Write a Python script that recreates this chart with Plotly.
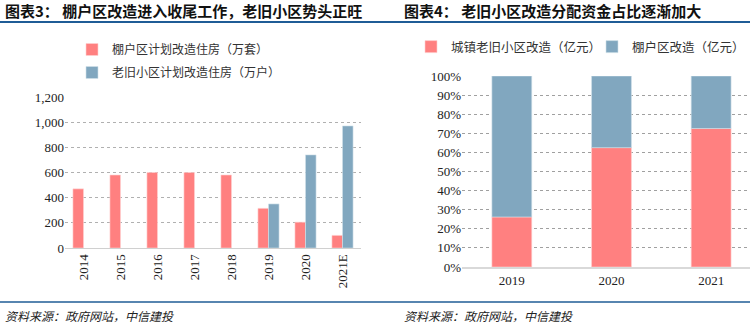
import plotly.graph_objects as go

# Left chart data
years_l = ["2014", "2015", "2016", "2017", "2018", "2019", "2020", "2021E"]
shantytown = [470, 580, 600, 600, 580, 315, 205, 100]
old_comm = [None, None, None, None, None, 350, 740, 970]
ytick_l = [0, 200, 400, 600, 800, 1000, 1200]
ytick_l_text = ["0", "200", "400", "600", "800", "1,000", "1,200"]

# Right chart data
years_r = ["2019", "2020", "2021"]
old_share = [0.262, 0.625, 0.725]
shanty_share = [0.738, 0.375, 0.275]

PINK = "#FF8080"
BLUE = "#81A7BF"
LINE = "#1F5C96"
SERIF = "Liberation Serif, Times New Roman, serif"
CJK = "Noto Sans CJK SC, sans-serif"

W, H = 750, 324
def py(px):
    return 1 - px / H
def pxx(px):
    return px / W

fig = go.Figure()

fig.add_trace(go.Bar(x=years_l, y=shantytown, name="棚户区计划改造住房（万套）",
                     marker=dict(color=PINK, line=dict(color="#FFD0D0", width=0.6)),
                     legendgroup="a", xaxis="x", yaxis="y", legend="legend"))
fig.add_trace(go.Bar(x=years_l, y=old_comm, name="老旧小区计划改造住房（万户）",
                     marker=dict(color=BLUE, line=dict(color="#D0E0EA", width=0.6)),
                     legendgroup="b", xaxis="x", yaxis="y", legend="legend"))

fig.add_trace(go.Bar(x=years_r, y=old_share, name="城镇老旧小区改造（亿元）",
                     marker=dict(color=PINK, line=dict(color="#FFD0D0", width=0.6)),
                     offsetgroup="r", width=0.4,
                     xaxis="x2", yaxis="y2", legend="legend2"))
fig.add_trace(go.Bar(x=years_r, y=shanty_share, base=old_share, name="棚户区改造（亿元）",
                     marker=dict(color=BLUE, line=dict(color="#D0E0EA", width=0.6)),
                     offsetgroup="r", width=0.4,
                     xaxis="x2", yaxis="y2", legend="legend3"))

fig.update_layout(
    width=W, height=H, margin=dict(l=0, r=0, t=0, b=0, autoexpand=False),
    paper_bgcolor="white", plot_bgcolor="white",
    barmode="group", bargap=0.43, bargroupgap=0,
    font=dict(family=SERIF, size=13, color="#222222"),
    xaxis=dict(domain=[pxx(65), pxx(361)], anchor="y", type="category",
               tickangle=-90, tickfont=dict(family=SERIF, size=13, color="#222"),
               showline=True, linecolor="#d0d0d0", linewidth=1, automargin=False,
               ticks="", showgrid=False),
    yaxis=dict(domain=[py(248), py(97)], anchor="x", range=[0, 1200],
               tickvals=ytick_l, ticktext=ytick_l_text, automargin=False,
               tickfont=dict(family=SERIF, size=13, color="#222"),
               showgrid=True, gridcolor="#b0b0b0", griddash="dot", gridwidth=1,
               zeroline=False, showline=False, ticks=""),
    xaxis2=dict(domain=[pxx(462), 1.0], anchor="y2", type="category",
                range=[-0.5, 2.39], automargin=False,
                tickfont=dict(family=SERIF, size=13, color="#222"),
                showline=True, linecolor="#d9d9d9", linewidth=2,
                ticks="", showgrid=False),
    yaxis2=dict(domain=[py(267), py(76)], anchor="x2", range=[0, 1],
                tickvals=[i / 10 for i in range(11)], tickformat=".0%", automargin=False,
                tickfont=dict(family=SERIF, size=13, color="#222"),
                showgrid=True, gridcolor="#a0a0a0", griddash="dot", gridwidth=1,
                zeroline=False, showline=False, ticks=""),
    legend=dict(x=pxx(72), y=py(35), xanchor="left", yanchor="top",
                orientation="v", font=dict(family=CJK, size=12, color="#333"),
                bgcolor="rgba(0,0,0,0)", itemwidth=30, tracegroupgap=4,
                traceorder="grouped"),
    legend2=dict(x=pxx(411), y=py(32), xanchor="left", yanchor="top",
                 orientation="v", font=dict(family=CJK, size=12.5, color="#333"),
                 bgcolor="rgba(0,0,0,0)", itemwidth=30),
    legend3=dict(x=1.0, y=py(32), xanchor="right", yanchor="top",
                 orientation="v", font=dict(family=CJK, size=12.5, color="#333"),
                 bgcolor="rgba(0,0,0,0)", itemwidth=30),
)

# Titles
fig.add_annotation(x=pxx(3), y=py(10), xref="paper", yref="paper", xanchor="left", yanchor="middle",
                   text="<b>图表3： 棚户区改造进入收尾工作，老旧小区势头正旺</b>",
                   showarrow=False, font=dict(family=CJK, size=15, color="#111"))
fig.add_annotation(x=pxx(402), y=py(10), xref="paper", yref="paper", xanchor="left", yanchor="middle",
                   text="<b>图表4： 老旧小区改造分配资金占比逐渐加大</b>",
                   showarrow=False, font=dict(family=CJK, size=15, color="#111"))
# Footers
for xx in (3, 402):
    fig.add_annotation(x=pxx(xx), y=py(315), xref="paper", yref="paper", xanchor="left", yanchor="middle",
                       text="<i>资料来源：政府网站，中信建投</i>",
                       showarrow=False, font=dict(family=CJK, size=12, color="#222"))
# Rules
fig.add_shape(type="line", xref="paper", yref="paper", x0=0, x1=1, y0=py(22), y1=py(22),
              line=dict(color=LINE, width=2))
fig.add_shape(type="line", xref="paper", yref="paper", x0=0, x1=1, y0=py(302), y1=py(302),
              line=dict(color=LINE, width=1.5))

fig.write_html("out.html")
